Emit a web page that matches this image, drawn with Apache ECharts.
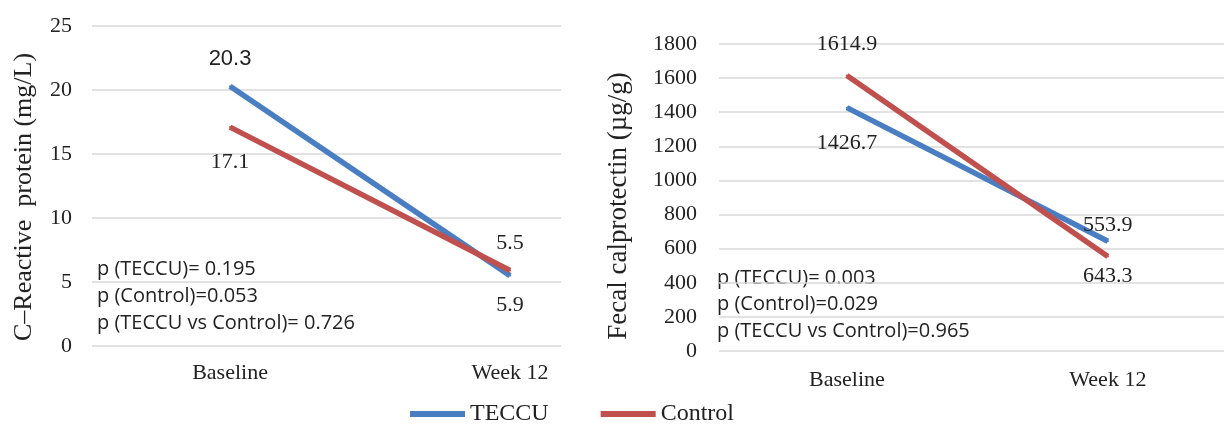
<!DOCTYPE html>
<html><head><meta charset="utf-8">
<script src="https://cdn.jsdelivr.net/npm/echarts@6/dist/echarts.min.js"></script>
<style>html,body{margin:0;padding:0;background:#fff}#c{width:1224px;height:426px}</style>
</head><body><div id="c"></div>
<script>
const categories = ['Baseline', 'Week 12'];
const seriesNames = ['TECCU', 'Control'];
// C-reactive protein (mg/L)
const crpTECCU = [20.3, 5.5];
const crpControl = [17.1, 5.9];
const crpTECCULabels = ['20.3', '5.5'];
const crpControlLabels = ['17.1', '5.9'];
const crpTicks = [0, 5, 10, 15, 20, 25];
// Fecal calprotectin (µg/g)
const fcTECCU = [1426.7, 643.3];
const fcControl = [1614.9, 553.9];
const fcTECCULabels = ['1426.7', '553.9'];
const fcControlLabels = ['1614.9', '643.3'];
const fcTicks = [0, 200, 400, 600, 800, 1000, 1200, 1400, 1600, 1800];
const crpPText = ['p (TECCU)= 0.195', 'p (Control)=0.053', 'p (TECCU vs Control)= 0.726'];
const fcPText = ['p (TECCU)= 0.003', 'p (Control)=0.029', 'p (TECCU vs Control)=0.965'];

const BLUE = '#4a7ec2', RED = '#c0504d';
const SERIF = '"Liberation Serif", "DejaVu Serif", serif';
const SANS = '"Liberation Sans", Arial, sans-serif';
const SANS2 = '"Open Sans", "Liberation Sans", sans-serif';

function withLabels(vals, labels, specs) {
  return vals.map((v, i) => ({
    value: [i, v],
    label: Object.assign({ show: true, formatter: labels[i], color: '#222' }, specs[i])
  }));
}

const chart = echarts.init(document.getElementById('c'), null, { renderer: 'canvas' });
const xCommon = (gi, min, max, margin) => ({
  type: 'value', gridIndex: gi, min: min, max: max,
  axisLine: { show: false }, axisTick: { show: false }, splitLine: { show: false },
  axisLabel: { customValues: [0, 1], formatter: v => categories[Math.round(v)] || '',
    fontFamily: SERIF, fontSize: 22, color: '#222', margin: margin }
});
const yCommon = (gi, ticks, margin, name, gap, fs, pad) => ({
  type: 'value', gridIndex: gi, min: ticks[0], max: ticks[ticks.length - 1],
  interval: ticks[1] - ticks[0],
  name: name, nameLocation: 'middle', nameGap: gap, nameRotate: 90,
  nameTextStyle: { fontFamily: SERIF, fontSize: fs, color: '#222', padding: pad },
  axisLine: { show: false }, axisTick: { show: false },
  axisLabel: { fontFamily: SERIF, fontSize: 22, color: '#222', margin: margin,
    formatter: v => String(v) },
  splitLine: { lineStyle: { color: '#d9d9d9', width: 1.5 } }
});
const lineSeries = (name, xi, data, color) => ({
  name: name, type: 'line', xAxisIndex: xi, yAxisIndex: xi, data: data,
  symbol: 'circle', symbolSize: 2, showSymbol: true,
  itemStyle: { color: color },
  lineStyle: { color: color, width: 5.5 }, silent: true, animation: false,
  emphasis: { disabled: true }
});

chart.setOption({
  animation: false,
  legend: {
    data: seriesNames, left: 410, top: 402, padding: 0,
    itemWidth: 55, itemHeight: 6, itemGap: 52, icon: 'rect',
    textStyle: { fontFamily: SERIF, fontSize: 24, color: '#222' }
  },
  grid: [
    { left: 92, top: 26, width: 469, height: 320 },
    { left: 719, top: 44, width: 505, height: 307 }
  ],
  xAxis: [xCommon(0, -0.493, 1.182, 16), xCommon(1, -0.490, 1.445, 18)],
  yAxis: [
    yCommon(0, crpTicks, 20, 'C–Reactive  protein (mg/L)', 55, 26, [0, 22, 0, 0]),
    yCommon(1, fcTicks, 22, 'Fecal calprotectin (µg/g)', 87, 27, [0, 17, 0, 0])
  ],
  series: [
    Object.assign(lineSeries('TECCU', 0, withLabels(crpTECCU, crpTECCULabels, [
      { position: 'top', distance: 15, fontFamily: SANS, fontSize: 22 },
      { position: 'top', distance: 20, fontFamily: SERIF, fontSize: 22 }
    ]), BLUE), { z: 2 }),
    Object.assign(lineSeries('Control', 0, withLabels(crpControl, crpControlLabels, [
      { position: 'bottom', distance: 23, fontFamily: SERIF, fontSize: 22 },
      { position: 'bottom', distance: 23, fontFamily: SERIF, fontSize: 22 }
    ]), RED), { z: 3 }),
    Object.assign(lineSeries('TECCU', 1, withLabels(fcTECCU, fcTECCULabels, [
      { position: 'bottom', distance: 24, fontFamily: SERIF, fontSize: 22 },
      { position: 'top', distance: 4, fontFamily: SERIF, fontSize: 22 }
    ]), BLUE), { z: 2 }),
    Object.assign(lineSeries('Control', 1, withLabels(fcControl, fcControlLabels, [
      { position: 'top', distance: 19, fontFamily: SERIF, fontSize: 22 },
      { position: 'bottom', distance: 8, fontFamily: SERIF, fontSize: 22 }
    ]), RED), { z: 3 })
  ],
  graphic: [
    ...crpPText.map((t, i) => ({ type: 'text', left: 97, top: 259 + i * 27,
      style: { text: t, fontFamily: SANS2, fontSize: 20, fill: '#222' } })),
    ...fcPText.map((t, i) => ({ type: 'text', left: 717, top: 268 + i * 26.5,
      style: { text: t, fontFamily: SANS2, fontSize: 20, fill: '#222' } }))
  ]
});
</script></body></html>
